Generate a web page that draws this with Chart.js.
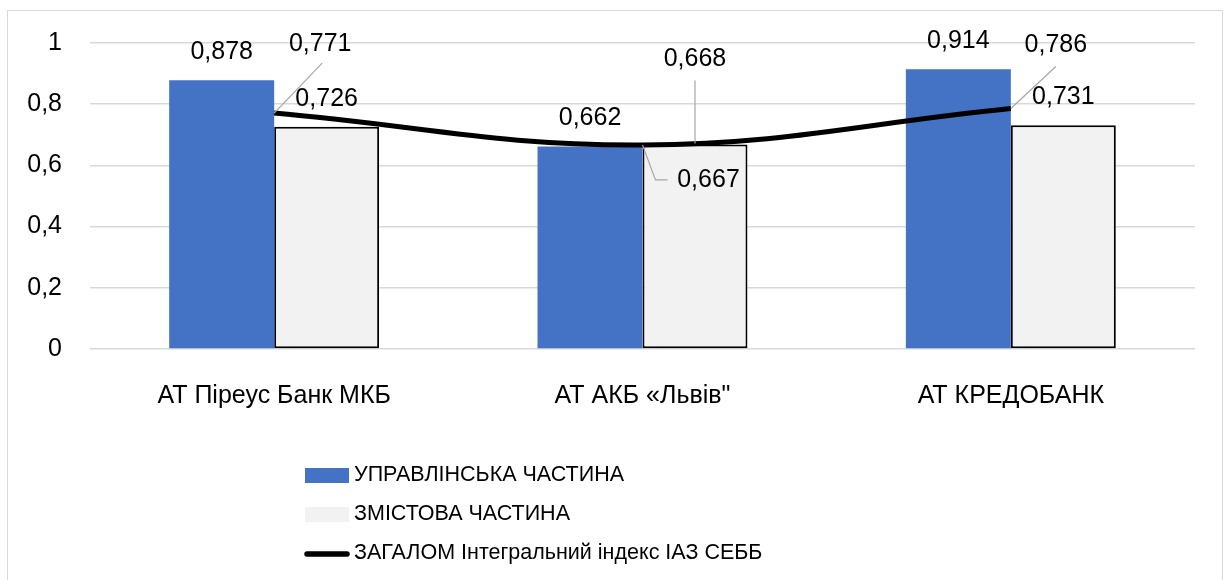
<!DOCTYPE html>
<html>
<head>
<meta charset="utf-8">
<script src="https://cdn.jsdelivr.net/npm/chart.js@4/dist/chart.umd.min.js"></script>
<style>
  html, body { margin: 0; padding: 0; background: #fff; }
  #wrap { position: relative; width: 1224px; height: 580px; overflow: hidden; }
  #frame { position: absolute; left: 7px; top: 10px; width: 1216px; height: 620px; border: 1px solid #d9d9d9; box-sizing: border-box; }
  #chart { position: absolute; left: 0; top: 0; }
</style>
</head>
<body>
<div id="wrap">
  <div id="frame"></div>
  <canvas id="chart" width="1224" height="580"></canvas>
</div>
<script>
const categories = ["АТ Піреус Банк МКБ", "АТ АКБ «Львів\"", "АТ КРЕДОБАНК"];
const managementValues = [0.878, 0.662, 0.914];
const contentValues = [0.726, 0.668, 0.731];
const totalValues = [0.771, 0.667, 0.786];
const yTickLabels = ["0", "0,2", "0,4", "0,6", "0,8", "1"];
const seriesNames = ["УПРАВЛІНСЬКА ЧАСТИНА", "ЗМІСТОВА ЧАСТИНА", "ЗАГАЛОМ Інтегральний індекс ІАЗ СЕББ"];

const FONT = "'Liberation Sans', Arial, sans-serif";

// label placement relative to the bar top / line point (default: centred 28px above)
const labelPlacement = {
    "1-1": { dx: 0, dy: -85, leader: [[0, -1], [0, -64]] },
    "2-0": { dx: 46, dy: -69, leader: [[0, 0], [48, -50]] },
    "2-1": { dx: 66, dy: 35, leader: [[0, 0], [13, 35], [25, 35]] },
    "2-2": { dx: 45, dy: -63, leader: [[0, 0], [45, -42]] }
};

function fmt(v) {
    return v.toFixed(3).replace(".", ",");
}

const valueLabels = {
    id: "valueLabels",
    afterDatasetsDraw(chart) {
        const { ctx } = chart;
        ctx.save();
        ctx.font = "25px " + FONT;
        ctx.textAlign = "center";
        ctx.textBaseline = "middle";
        chart.data.datasets.forEach((ds, di) => {
            const meta = chart.getDatasetMeta(di);
            meta.data.forEach((el, i) => {
                const p = labelPlacement[di + "-" + i] || { dx: 0, dy: -28 };
                if (p.leader) {
                    ctx.strokeStyle = "#a6a6a6";
                    ctx.lineWidth = 1.2;
                    ctx.beginPath();
                    p.leader.forEach((pt, k) => {
                        if (k === 0) ctx.moveTo(el.x + pt[0], el.y + pt[1]);
                        else ctx.lineTo(el.x + pt[0], el.y + pt[1]);
                    });
                    ctx.stroke();
                }
                ctx.fillStyle = "#000";
                ctx.fillText(fmt(ds.data[i]), el.x + p.dx, el.y + p.dy);
            });
        });
        ctx.restore();
    }
};

// vertical legend under the axis
const stackedLegend = {
    id: "stackedLegend",
    afterDraw(chart) {
        const { ctx } = chart;
        const x0 = 305, y0 = 475, rowH = 39;
        ctx.save();
        ctx.font = "21.5px " + FONT;
        ctx.textBaseline = "middle";
        ctx.textAlign = "left";
        chart.data.datasets.forEach((ds, i) => {
            const y = y0 + i * rowH;
            if (ds.type === "line") {
                ctx.strokeStyle = ds.borderColor;
                ctx.lineWidth = 5.5;
                ctx.lineCap = "round";
                ctx.beginPath();
                ctx.moveTo(x0 + 2, y + 1);
                ctx.lineTo(x0 + 42, y + 1);
                ctx.stroke();
            } else {
                ctx.fillStyle = ds.backgroundColor;
                ctx.fillRect(x0, y - 7, 44, 15);
            }
            ctx.fillStyle = "#000";
            ctx.fillText(ds.label, x0 + 49, y);
        });
        ctx.restore();
    }
};

new Chart(document.getElementById("chart"), {
    data: {
        labels: categories,
        datasets: [
            {
                type: "bar",
                label: seriesNames[0],
                data: managementValues,
                backgroundColor: "#4472c4",
                borderWidth: 0,
                order: 1
            },
            {
                type: "bar",
                label: seriesNames[1],
                data: contentValues,
                backgroundColor: "#f2f2f2",
                borderColor: "#000",
                borderWidth: 2,
                borderSkipped: false,
                order: 2
            },
            {
                type: "line",
                label: seriesNames[2],
                data: totalValues,
                borderColor: "#000",
                borderWidth: 5,
                tension: 0.4,
                pointRadius: 0,
                fill: false,
                order: 0
            }
        ]
    },
    options: {
        responsive: false,
        animation: false,
        devicePixelRatio: 1,
        layout: { padding: { top: 42, right: 29, bottom: 171, left: 0 } },
        datasets: {
            bar: { categoryPercentage: 0.57, barPercentage: 1 }
        },
        scales: {
            x: {
                grid: { display: false },
                border: { display: false },
                ticks: { color: "#000", font: { family: FONT, size: 25 }, padding: 24, maxRotation: 0 },
                afterFit(scale) { scale.height = 60; }
            },
            y: {
                min: 0,
                max: 1,
                grid: { color: "#d9d9d9", lineWidth: 1.5, drawTicks: false },
                border: { display: false },
                ticks: {
                    stepSize: 0.2,
                    color: "#000",
                    padding: 28,
                    font: { family: FONT, size: 25 },
                    callback: (v, i) => yTickLabels[i]
                },
                afterFit(scale) { scale.width = 90; }
            }
        },
        plugins: {
            legend: { display: false },
            tooltip: { enabled: false }
        }
    },
    plugins: [valueLabels, stackedLegend]
});
</script>
</body>
</html>
